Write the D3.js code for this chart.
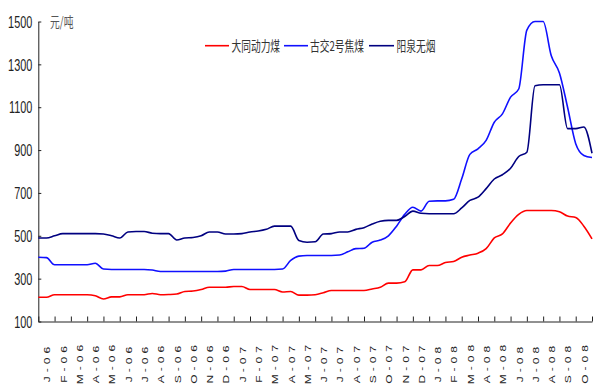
<!DOCTYPE html>
<html><head><meta charset="utf-8">
<script src="https://cdn.jsdelivr.net/npm/d3@7"></script>
<style>body{margin:0;background:#fff}svg{display:block}</style>
</head><body>
<svg id="c" width="594" height="387"></svg>
<script>
const xLabels = ["J-06","F-06","M-06","A-06","M-06","J-06","J-06","A-06","S-06","O-06","N-06","D-06",
"J-07","F-07","M-07","A-07","M-07","J-07","J-07","A-07","S-07","O-07","N-07","D-07",
"J-08","F-08","M-08","A-08","M-08","J-08","J-08","A-08","S-08","O-08"];
const yTicks = [100,300,500,700,900,1100,1300,1500];
const seriesNames = ["大同动力煤","古交2号焦煤","阳泉无烟"];
const seriesColors = ["#ff0000","#1010ff","#000080"];
// values every half month, Jan 2006 .. end Oct 2008
const datong = [213,213,225,225,225,225,225,220,205,215,215,225,225,225,231,225,226,228,240,242,249,260,260,260,263,263,249,249,249,249,238,240,223,223,225,234,245,245,245,245,245,252,260,279,279,285,341,341,361,361,375,380,400,410,419,440,490,509,560,600,618,618,618,618,612,592,585,545,486];
const gujiao = [400,398,365,365,365,365,365,372,345,343,343,343,343,343,340,333,333,333,333,333,333,333,333,335,343,343,343,343,343,343,345,385,405,408,408,408,408,410,425,440,442,470,480,500,545,600,633,615,661,663,663,670,766,880,906,945,1030,1069,1147,1185,1460,1560,1560,1340,1260,1100,930,875,865];
const yangquan = [490,490,500,510,510,510,510,510,508,500,490,518,520,520,512,510,510,480,490,492,500,518,518,508,508,510,518,522,530,545,545,545,478,470,472,508,510,518,518,530,538,555,568,572,572,590,615,605,603,603,603,603,630,665,680,720,765,785,815,870,890,1200,1205,1205,1205,1000,1000,1008,885];
const allSeries = [datong, gujiao, yangquan];

const svg = d3.select("#c");
const L = 38.3, R = 592, T = 21.5, B = 321.5;
const x = d3.scaleLinear().domain([0, xLabels.length]).range([L, R]);
const y = d3.scaleLinear().domain([100, 1500]).range([B, T]).clamp(true);
const SX = 0.68;

// y axis
const ya = svg.append("g").attr("transform", `translate(${L},0)`)
  .call(d3.axisLeft(y).tickValues(yTicks).tickFormat(d3.format("d")).tickSize(-3).tickSizeOuter(0));
ya.select(".domain").attr("stroke", "#222");
ya.selectAll(".tick line").attr("stroke", "#222");
ya.selectAll(".tick text").attr("x", 0).attr("dy", "0.36em")
  .attr("transform", `translate(-6,0) scale(${SX},1)`)
  .attr("font-family", "Liberation Sans, Arial, sans-serif").attr("font-size", 16).attr("fill", "#222");

// x axis ticks
const xa = svg.append("g").attr("transform", `translate(0,${B})`)
  .call(d3.axisBottom(x).tickValues(d3.range(0, xLabels.length + 1)).tickSize(-5).tickSizeOuter(0).tickFormat(""));
xa.select(".domain").attr("stroke", "#222");
xa.selectAll(".tick line").attr("stroke", "#222");

// x labels
const xl = svg.append("g").attr("transform", `translate(0,362.5)`)
  .call(d3.axisBottom(x).tickValues(d3.range(xLabels.length).map(i => i + 0.5)).tickSize(0).tickFormat((d, i) => xLabels[i]));
xl.select(".domain").remove();
xl.selectAll(".tick text").attr("y", 0).attr("dy", "0.35em").attr("text-anchor", "middle")
  .attr("transform", `scale(0.8,1) rotate(-90)`)
  .attr("letter-spacing", "4px")
  .attr("font-family", "Liberation Sans, Arial, sans-serif").attr("font-size", 12).attr("fill", "#222");

// lines
const xs = d3.range(datong.length).map(i => i / 2);
const line = d3.line().x((d, i) => x(xs[i])).y(d => y(d)).curve(d3.curveMonotoneX);
allSeries.forEach((s, k) => {
  svg.append("path").datum(s).attr("d", line).attr("fill", "none")
    .attr("stroke", seriesColors[k]).attr("stroke-width", 1.6).attr("stroke-linejoin", "round");
});

// unit label
svg.append("text").attr("transform", `translate(50,27) scale(0.7,1)`)
  .attr("font-family", "Noto Sans CJK SC, sans-serif").attr("font-size", 14).attr("fill", "#555").text("元/吨");

// legend
const leg = [{x1:205,x2:229,tx:231.5},{x1:284,x2:308,tx:310},{x1:369,x2:394,tx:396.5}];
leg.forEach((p, k) => {
  svg.append("line").attr("x1", p.x1).attr("x2", p.x2).attr("y1", 45.7).attr("y2", 45.7)
    .attr("stroke", seriesColors[k]).attr("stroke-width", 1.6);
  svg.append("text").attr("transform", `translate(${p.tx},50.5) scale(0.72,1)`)
    .attr("font-family", "Noto Sans CJK SC, sans-serif").attr("font-size", 13.5).attr("fill", "#333")
    .text(seriesNames[k]);
});
</script>
</body></html>
